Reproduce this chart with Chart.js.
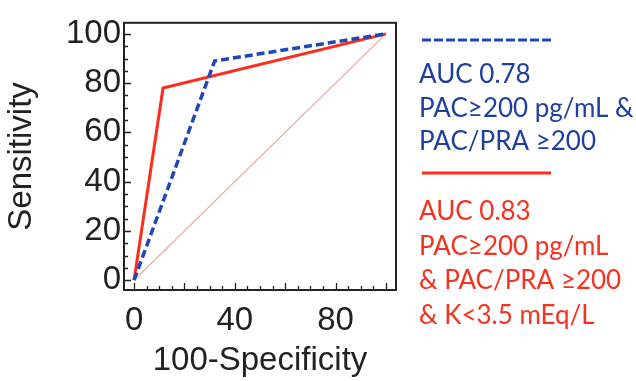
<!DOCTYPE html>
<html>
<head>
<meta charset="utf-8">
<title>ROC curves</title>
<script src="https://cdn.jsdelivr.net/npm/chart.js@4.4.1/dist/chart.umd.min.js"></script>
<style>
  html, body { margin: 0; padding: 0; background: #ffffff; }
  #wrap { width: 636px; height: 381px; position: relative; }
</style>
</head>
<body>
<div id="wrap"><canvas id="roc" width="636" height="381"></canvas></div>
<script>
// ROC curve points: 100-specificity (x) and sensitivity (y), in percent
const fprDual = [0, 32, 100];
const sensDual = [0, 89, 100];
const fprTriple = [0, 11.5, 100];
const sensTriple = [0, 78, 100];
const fprChance = [0, 100];
const sensChance = [0, 100];

// Tick positions and the ones that get a label
const tickValues = [0, 5, 10, 15, 20, 25, 30, 35, 40, 45, 50, 55, 60, 65, 70, 75, 80, 85, 90, 95, 100];
const xTickLabels = [0, 40, 80];
const yTickLabels = [0, 20, 40, 60, 80, 100];

// Legend entries
const legendDual = ['AUC 0.78', 'PAC\u2265200 pg/mL &', 'PAC/PRA \u2265200'];
const legendTriple = ['AUC 0.83', 'PAC\u2265200 pg/mL', '& PAC/PRA \u2265200', '& K<3.5 mEq/L'];

const BLUE = '#1f47b8';
const RED = '#ff2b1c';
const BLUE_TEXT = '#1f3f9e';
const RED_TEXT = '#f5321f';
const AXIS = '#222222';

const toPoints = (xs, ys) => xs.map((x, i) => ({ x: x, y: ys[i] }));

// Box frame with inward tick marks
const framePlugin = {
  id: 'frame',
  afterDatasetsDraw(chart) {
    const { ctx, chartArea: a, scales } = chart;
    ctx.save();
    ctx.strokeStyle = AXIS;
    ctx.lineWidth = 2;
    ctx.strokeRect(a.left, a.top, a.right - a.left, a.bottom - a.top);
    ctx.lineWidth = 1.3;
    ctx.beginPath();
    tickValues.forEach(v => {
      const len = v % 20 === 0 ? 7 : 4;
      const px = Math.round(scales.x.getPixelForValue(v)) + 0.5;
      ctx.moveTo(px, a.bottom);
      ctx.lineTo(px, a.bottom - len);
      const py = Math.round(scales.y.getPixelForValue(v)) + 0.5;
      ctx.moveTo(a.left, py);
      ctx.lineTo(a.left + len, py);
    });
    ctx.stroke();
    ctx.restore();
  }
};

// Legend to the right of the plot: line sample then description lines
const sideLegendPlugin = {
  id: 'sideLegend',
  afterDraw(chart) {
    const ctx = chart.ctx;
    const x0 = 419;
    ctx.save();
    ctx.lineWidth = 3;
    ctx.strokeStyle = BLUE;
    ctx.setLineDash([9, 3]);
    ctx.beginPath();
    ctx.moveTo(x0 + 3, 40);
    ctx.lineTo(x0 + 133, 40);
    ctx.stroke();
    ctx.setLineDash([]);
    ctx.strokeStyle = RED;
    ctx.beginPath();
    ctx.moveTo(x0 + 3, 173);
    ctx.lineTo(x0 + 132, 173);
    ctx.stroke();

    ctx.font = '26px Lato, "Open Sans", sans-serif';
    ctx.textBaseline = 'middle';
    ctx.textAlign = 'left';
    ctx.fillStyle = BLUE_TEXT;
    legendDual.forEach((t, i) => ctx.fillText(t, x0, 75 + i * 33.5));
    ctx.fillStyle = RED_TEXT;
    legendTriple.forEach((t, i) => ctx.fillText(t, x0, 212 + i * 34.5));
    ctx.restore();
  }
};

const tickFont = { family: '"Liberation Sans", Arial, sans-serif', size: 33 };

new Chart(document.getElementById('roc'), {
  type: 'scatter',
  data: {
    datasets: [
      {
        label: 'PAC & PAC/PRA',
        data: toPoints(fprDual, sensDual),
        showLine: true,
        borderColor: BLUE,
        borderWidth: 3.5,
        borderDash: [8, 4],
        pointRadius: 0,
        fill: false
      },
      {
        label: 'PAC & PAC/PRA & K',
        data: toPoints(fprTriple, sensTriple),
        showLine: true,
        borderColor: RED,
        borderWidth: 3,
        pointRadius: 0,
        fill: false
      },
      {
        label: 'Reference',
        data: toPoints(fprChance, sensChance),
        showLine: true,
        borderColor: '#e9a497',
        borderWidth: 1.2,
        pointRadius: 0,
        fill: false
      }
    ]
  },
  options: {
    responsive: false,
    animation: false,
    events: [],
    layout: { padding: { left: 0, top: 16, right: 240, bottom: 0 } },
    plugins: { legend: { display: false }, tooltip: { enabled: false } },
    scales: {
      x: {
        type: 'linear',
        min: -4,
        max: 104,
        afterBuildTicks: s => { s.ticks = tickValues.map(v => ({ value: v })); },
        afterFit: s => { s.height = 91; },
        grid: { display: false, drawTicks: false },
        border: { display: false },
        ticks: {
          autoSkip: false,
          maxRotation: 0,
          padding: 11,
          color: AXIS,
          font: tickFont,
          callback: v => (xTickLabels.includes(v) ? String(v) : '')
        },
        title: {
          display: true,
          text: '100-Specificity',
          color: AXIS,
          font: tickFont,
          padding: { top: 0, bottom: 0 }
        }
      },
      y: {
        type: 'linear',
        min: -4,
        max: 104.5,
        afterBuildTicks: s => { s.ticks = tickValues.map(v => ({ value: v })); },
        afterFit: s => { s.width = 124; },
        grid: { display: false, drawTicks: false },
        border: { display: false },
        ticks: {
          autoSkip: false,
          padding: 3,
          color: AXIS,
          font: tickFont,
          callback: v => (yTickLabels.includes(v) ? String(v) : '')
        },
        title: {
          display: true,
          text: 'Sensitivity',
          color: AXIS,
          font: tickFont,
          padding: { top: 2, bottom: 0 }
        }
      }
    }
  },
  plugins: [framePlugin, sideLegendPlugin]
});
</script>
</body>
</html>
